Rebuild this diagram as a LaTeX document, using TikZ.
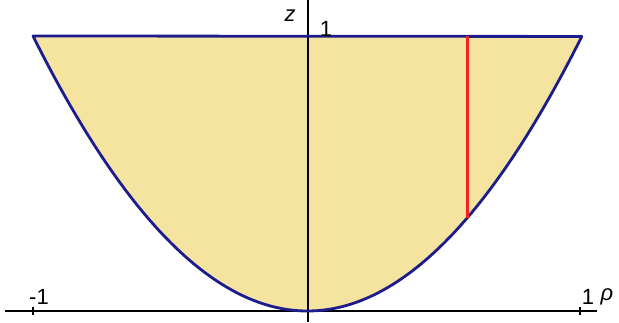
\documentclass[tikz,border=0pt]{standalone}
\usepackage{fontspec}
\setmainfont{Liberation Sans}
\definecolor{bowlfill}{HTML}{F5E3A0}
\definecolor{bowledge}{HTML}{1C1C8C}
\definecolor{cutred}{HTML}{F52020}
\begin{document}
\begin{tikzpicture}[x=1pt,y=1pt,
  edge/.style={bowledge,line width=2.8pt,line join=round},
  axis/.style={black,line width=1.3pt},
  lbl/.style={inner sep=0pt,font=\fontsize{22}{24}\selectfont}]
\useasboundingbox (0,0) rectangle (619,322);
% filled region
\fill[bowlfill] plot[domain=-1:1,samples=120] ({307.5+274.5*\x},{11+275*\x*\x}) -- cycle;
% axes
\coordinate (hl) at (5,11);
\coordinate (hr) at (597,11);
\coordinate (vb) at (308,0);
\coordinate (vt) at (308,322);
\draw[axis] (hl) -- (hr);
\draw[axis] (vb) -- (vt);
% ticks
\coordinate (tl) at (33,11);
\coordinate (tr) at (580,11);
\draw[axis] ([yshift=-4]tl) -- ([yshift=4]tl);
\draw[axis] ([yshift=-4]tr) -- ([yshift=4]tr);
% boundary
\draw[edge] plot[domain=-1:1,samples=120] ({307.5+274.5*\x},{11+275*\x*\x}) -- cycle;
% red segment
\coordinate (rb) at (467,104);
\coordinate (rt) at (467,286);
\draw[cutred,line width=3pt] (rb) -- (rt);
% labels
\node[lbl] (m1) at (39,25) {-1};
\node[lbl] (p1) at (588,25) {1};
\node[lbl,font=\fontsize{22}{24}\selectfont\itshape] (rho) at (607,25) {ρ};
\node[lbl,font=\fontsize{22}{24}\selectfont\itshape] (zl) at (290,306) {z};
\node[lbl] (z1) at (326,293) {1};
\end{tikzpicture}
\end{document}
